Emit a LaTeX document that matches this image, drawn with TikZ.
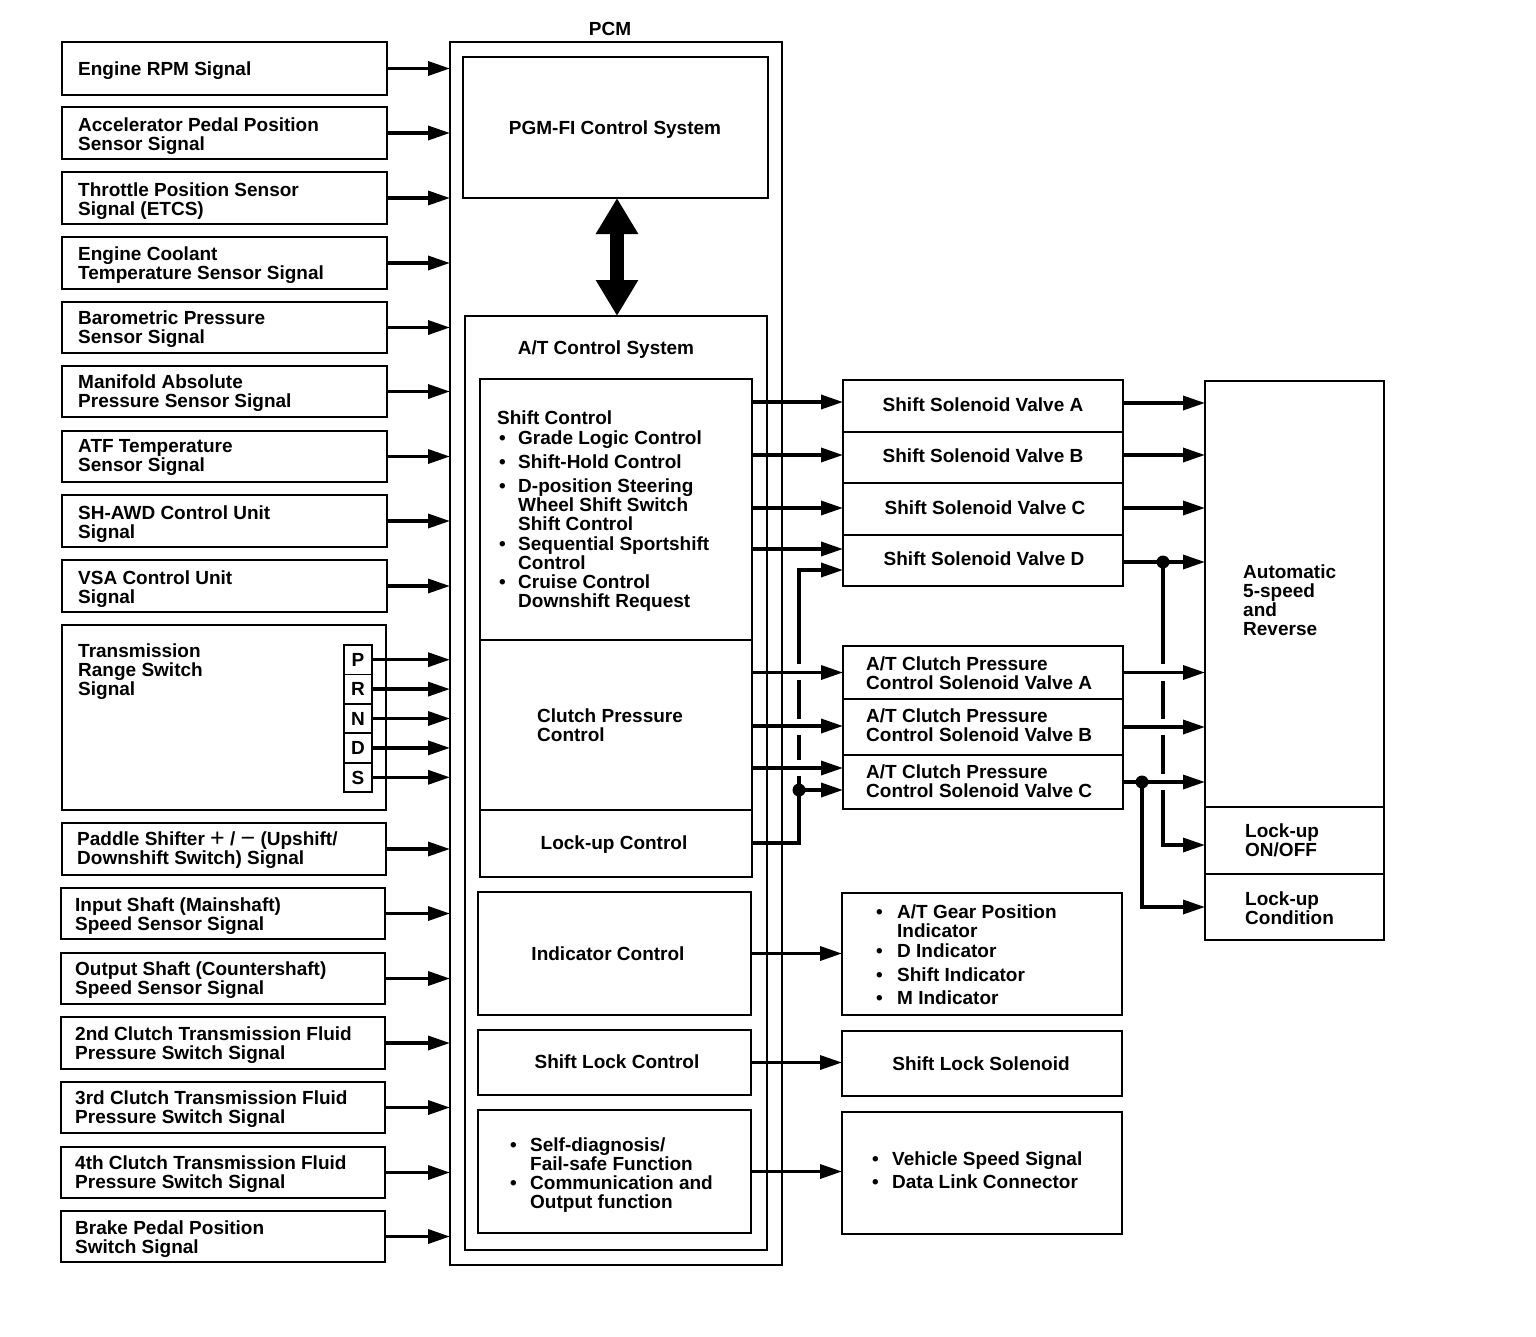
\documentclass[tikz,border=0pt]{standalone}
\usepackage{fontspec}
\setmainfont{Liberation Sans}
\usetikzlibrary{arrows.meta}
\newcommand\mystrA{\rule{0pt}{18.1pt}}
\newcommand\mystrB{\rule[-4.5pt]{0pt}{4.5pt}}
\newcommand\tx[1]{\mystrA#1\mystrB}
\newcommand\bigop[1]{{\mdseries\fontsize{25}{19}\selectfont\raisebox{-1pt}{#1}}}
\newcommand\mkbox[5]{\node[box, anchor=north west, minimum width={(#4-#2)*1pt}, minimum height={(#5-#3)*1pt}] (#1) at (#2,#3) {};}
\begin{document}
\begin{tikzpicture}[x=1pt,y=-1pt,
 box/.style={draw, line width=1.8pt, inner sep=0pt, outer sep=0pt},
 arr/.style={line width=3.4pt, -{Triangle[length=22pt,width=14pt]}},
 wire/.style={line width=3.4pt},
 txt/.style={font=\bfseries\fontsize{19}{19}\selectfont, inner sep=0pt, align=left},
 dot/.style={circle, fill, inner sep=0pt, minimum size=13pt}]
\fill[white] (0,0) rectangle (1536,1336);
\useasboundingbox (0,0) rectangle (1536,1336);

% ---------- left input boxes ----------
\mkbox{L1}{62}{42}{387}{95}
\mkbox{L2}{62}{107}{387}{159}
\mkbox{L3}{62}{172}{387}{224}
\mkbox{L4}{62}{237}{387}{289}
\mkbox{L5}{62}{302}{387}{353}
\mkbox{L6}{62}{366}{387}{417}
\mkbox{L7}{62}{431}{387}{482}
\mkbox{L8}{62}{495}{387}{547}
\mkbox{L9}{62}{560}{387}{612}
\mkbox{L10}{62}{625}{386}{810}
\mkbox{L11}{62}{823}{386}{875}
\mkbox{L12}{61}{888}{385}{939}
\mkbox{L13}{61}{953}{385}{1004}
\mkbox{L14}{61}{1017}{385}{1069}
\mkbox{L15}{61}{1082}{385}{1133}
\mkbox{L16}{61}{1147}{385}{1198}
\mkbox{L17}{61}{1211}{385}{1262}

\mkbox{gP}{344}{645}{372}{674.4}
\mkbox{gR}{344}{674.4}{372}{703.8}
\mkbox{gN}{344}{703.8}{372}{733.2}
\mkbox{gD}{344}{733.2}{372}{762.6}
\mkbox{gS}{344}{762.6}{372}{792}
\node[txt] (tP) at (gP) {\tx{P}};
\node[txt] (tR) at (gR) {\tx{R}};
\node[txt] (tN) at (gN) {\tx{N}};
\node[txt] (tD) at (gD) {\tx{D}};
\node[txt] (tS) at (gS) {\tx{S}};

\node[txt, anchor=west] (t1) at (78,69) {\tx{Engine RPM Signal}};
\node[txt, anchor=west] (t2) at (78,134.5) {\tx{Accelerator Pedal Position\\Sensor Signal}};
\node[txt, anchor=west] (t3) at (78,199.5) {\tx{Throttle Position Sensor\\Signal (ETCS)}};
\node[txt, anchor=west] (t4) at (78,263.5) {\tx{Engine Coolant\\Temperature Sensor Signal}};
\node[txt, anchor=west] (t5) at (78,327.5) {\tx{Barometric Pressure\\Sensor Signal}};
\node[txt, anchor=west] (t6) at (78,391) {\tx{Manifold Absolute\\Pressure Sensor Signal}};
\node[txt, anchor=west] (t7) at (78,455.5) {\tx{ATF Temperature\\Sensor Signal}};
\node[txt, anchor=west] (t8) at (78,522.5) {\tx{SH-AWD Control Unit\\Signal}};
\node[txt, anchor=west] (t9) at (78,587) {\tx{VSA Control Unit\\Signal}};
\node[txt, anchor=west] (t10) at (78,670) {\tx{Transmission\\Range Switch\\Signal}};
\node[txt, anchor=west] (t11) at (77,848.5) {\tx{Paddle Shifter \bigop{+} / \bigop{−} (Upshift/\\Downshift Switch) Signal}};
\node[txt, anchor=west] (t12) at (75,914.5) {\tx{Input Shaft (Mainshaft)\\Speed Sensor Signal}};
\node[txt, anchor=west] (t13) at (75,978.5) {\tx{Output Shaft (Countershaft)\\Speed Sensor Signal}};
\node[txt, anchor=west] (t14) at (75,1043.5) {\tx{2nd Clutch Transmission Fluid\\Pressure Switch Signal}};
\node[txt, anchor=west] (t15) at (75,1107.5) {\tx{3rd Clutch Transmission Fluid\\Pressure Switch Signal}};
\node[txt, anchor=west] (t16) at (75,1172.5) {\tx{4th Clutch Transmission Fluid\\Pressure Switch Signal}};
\node[txt, anchor=west] (t17) at (75,1237.5) {\tx{Brake Pedal Position\\Switch Signal}};

% ---------- PCM ----------
\mkbox{pcm}{450}{42}{782}{1265}
\node[txt] (pcmt) at (610,29) {\tx{PCM}};
\mkbox{pgm}{463}{57}{768}{198}
\node[txt] (tpgm) at (615,128) {\tx{PGM-FI Control System}};
\mkbox{atc}{465}{316}{767}{1250}
\node[txt] (tatc) at (606,348) {\tx{A/T Control System}};
\mkbox{sc}{480}{379}{752}{640}
\mkbox{cpc}{480}{640}{752}{810}
\mkbox{luc}{480}{810}{752}{877}
\mkbox{ic}{478}{892}{751}{1015}
\mkbox{slc}{478}{1030}{751}{1095}
\mkbox{sd}{478}{1110}{751}{1233}

\draw[line width=14pt, {Triangle[length=36pt,width=40pt]}-{Triangle[length=36pt,width=40pt]}]
  (pgm.south -| 617,0) -- (atc.north -| 617,0);

\node[txt, anchor=west] (sc0) at (497,418) {\tx{Shift Control}};
\node[txt, anchor=west] (scb1) at (499,438) {\tx{•}};
\node[txt, anchor=west] (scb2) at (499,462) {\tx{•}};
\node[txt, anchor=west] (scb3) at (499,486) {\tx{•}};
\node[txt, anchor=west] (scb4) at (499,544) {\tx{•}};
\node[txt, anchor=west] (scb5) at (499,582) {\tx{•}};
\node[txt, anchor=west] (sc1) at (518,438) {\tx{Grade Logic Control}};
\node[txt, anchor=west] (sc2) at (518,462) {\tx{Shift-Hold Control}};
\node[txt, anchor=west] (sc3) at (518,505) {\tx{D-position Steering\\Wheel Shift Switch\\Shift Control}};
\node[txt, anchor=west] (sc4) at (518,553.5) {\tx{Sequential Sportshift\\Control}};
\node[txt, anchor=west] (sc5) at (518,591.5) {\tx{Cruise Control\\Downshift Request}};
\node[txt, anchor=west] (tcpc) at (537,725.5) {\tx{Clutch Pressure\\Control}};
\node[txt] (tluc) at (614,843) {\tx{Lock-up Control}};
\node[txt] (tic) at (608,954) {\tx{Indicator Control}};
\node[txt] (tslc) at (617,1062) {\tx{Shift Lock Control}};
\node[txt, anchor=west] (sdb1) at (510,1145) {\tx{•}};
\node[txt, anchor=west] (sdb2) at (510,1183) {\tx{•}};
\node[txt, anchor=west] (sd1) at (530,1154.5) {\tx{Self-diagnosis/\\Fail-safe Function}};
\node[txt, anchor=west] (sd2) at (530,1192.5) {\tx{Communication and\\Output function}};

% ---------- right boxes ----------
\mkbox{sA}{843}{380}{1123}{432}
\mkbox{sB}{843}{432}{1123}{483}
\mkbox{sC}{843}{483}{1123}{535}
\mkbox{sD}{843}{535}{1123}{586}
\mkbox{cA}{843}{646}{1123}{699}
\mkbox{cB}{843}{699}{1123}{755}
\mkbox{cC}{843}{755}{1123}{809}
\mkbox{ind}{842}{893}{1122}{1015}
\mkbox{sls}{842}{1031}{1122}{1096}
\mkbox{vss}{842}{1112}{1122}{1234}
\mkbox{at5}{1205}{381}{1384}{807}
\mkbox{lon}{1205}{807}{1384}{874}
\mkbox{lcd}{1205}{874}{1384}{940}

\node[txt] (tsA) at (983,405) {\tx{Shift Solenoid Valve A}};
\node[txt] (tsB) at (983,456) {\tx{Shift Solenoid Valve B}};
\node[txt] (tsC) at (985,508) {\tx{Shift Solenoid Valve C}};
\node[txt] (tsD) at (984,559) {\tx{Shift Solenoid Valve D}};
\node[txt, anchor=west] (tcA) at (866,673.5) {\tx{A/T Clutch Pressure\\Control Solenoid Valve A}};
\node[txt, anchor=west] (tcB) at (866,725.5) {\tx{A/T Clutch Pressure\\Control Solenoid Valve B}};
\node[txt, anchor=west] (tcC) at (866,781.5) {\tx{A/T Clutch Pressure\\Control Solenoid Valve C}};
\node[txt, anchor=west] (ib1) at (876,912) {\tx{•}};
\node[txt, anchor=west] (ib2) at (876,951) {\tx{•}};
\node[txt, anchor=west] (ib3) at (876,975) {\tx{•}};
\node[txt, anchor=west] (ib4) at (876,998) {\tx{•}};
\node[txt, anchor=west] (i1) at (897,921.5) {\tx{A/T Gear Position\\Indicator}};
\node[txt, anchor=west] (i2) at (897,951) {\tx{D Indicator}};
\node[txt, anchor=west] (i3) at (897,975) {\tx{Shift Indicator}};
\node[txt, anchor=west] (i4) at (897,998) {\tx{M Indicator}};
\node[txt] (tsls) at (981,1064) {\tx{Shift Lock Solenoid}};
\node[txt, anchor=west] (vb1) at (872,1159) {\tx{•}};
\node[txt, anchor=west] (vb2) at (872,1182) {\tx{•}};
\node[txt, anchor=west] (v1) at (892,1159) {\tx{Vehicle Speed Signal}};
\node[txt, anchor=west] (v2) at (892,1182) {\tx{Data Link Connector}};
\node[txt, anchor=west] (tat5) at (1243,600.5) {\tx{Automatic\\5-speed\\and\\Reverse}};
\node[txt, anchor=west] (tlon) at (1245,840.5) {\tx{Lock-up\\ON/OFF}};
\node[txt, anchor=west] (tlcd) at (1245,908.5) {\tx{Lock-up\\Condition}};

% ---------- input arrows ----------
\foreach \n in {L1,L2,L3,L4,L5,L6,L7,L8,L9,L11,L12,L13,L14,L15,L16,L17,gP,gR,gN,gD,gS}
  \draw[arr] (\n.east) -- (\n.east -| pcm.west);

% ---------- PCM outputs ----------
\draw[arr] (sc.east |- 0,402) -- (sA.west |- 0,402);
\draw[arr] (sc.east |- 0,455) -- (sB.west |- 0,455);
\draw[arr] (sc.east |- 0,508) -- (sC.west |- 0,508);
\draw[arr] (sc.east |- 0,549) -- (sD.west |- 0,549);
\draw[arr] (cpc.east |- 0,672.5) -- (cA.west |- 0,672.5);
\draw[arr] (cpc.east |- 0,726) -- (cB.west |- 0,726);
\draw[arr] (cpc.east |- 0,768) -- (cC.west |- 0,768);

\coordinate (k1) at (799,843);
\coordinate (k2) at (799,570);
\coordinate (j1) at (799,790);
\draw[wire] (luc.east |- k1) -- (k1) -- (799,776);
\draw[wire] (799,760) -- (799,734.5);
\draw[wire] (799,718.5) -- (799,680);
\draw[arr] (799,664) -- (k2) -- (sD.west |- k2);
\node[dot] (j1d) at (j1) {};
\draw[arr] (j1) -- (cC.west |- j1);

\draw[arr] (ic.east) -- (ic.east -| ind.west);
\draw[arr] (slc.east) -- (slc.east -| sls.west);
\draw[arr] (sd.east) -- (sd.east -| vss.west);

% ---------- to transmission ----------
\draw[arr] (sA.east |- 0,403) -- (at5.west |- 0,403);
\draw[arr] (sB.east |- 0,455) -- (at5.west |- 0,455);
\draw[arr] (sC.east |- 0,508) -- (at5.west |- 0,508);
\coordinate (j2) at (1163,562);
\draw[arr] (sD.east |- j2) -- (at5.west |- j2);
\draw[arr] (cA.east) -- (cA.east -| at5.west);
\draw[arr] (cB.east) -- (cB.east -| at5.west);
\coordinate (j3) at (1142,782);
\draw[arr] (cC.east |- j3) -- (at5.west |- j3);
\draw[wire] (j2) -- (1163,664);
\draw[wire] (1163,681) -- (1163,719);
\draw[wire] (1163,735) -- (1163,774);
\coordinate (k3) at (1163,845);
\draw[arr] (1163,790) -- (k3) -- (lon.west |- k3);
\node[dot] (j2d) at (j2) {};
\coordinate (k4) at (1142,907);
\draw[arr] (j3) -- (k4) -- (lcd.west |- k4);
\node[dot] (j3d) at (j3) {};
\end{tikzpicture}
\end{document}
